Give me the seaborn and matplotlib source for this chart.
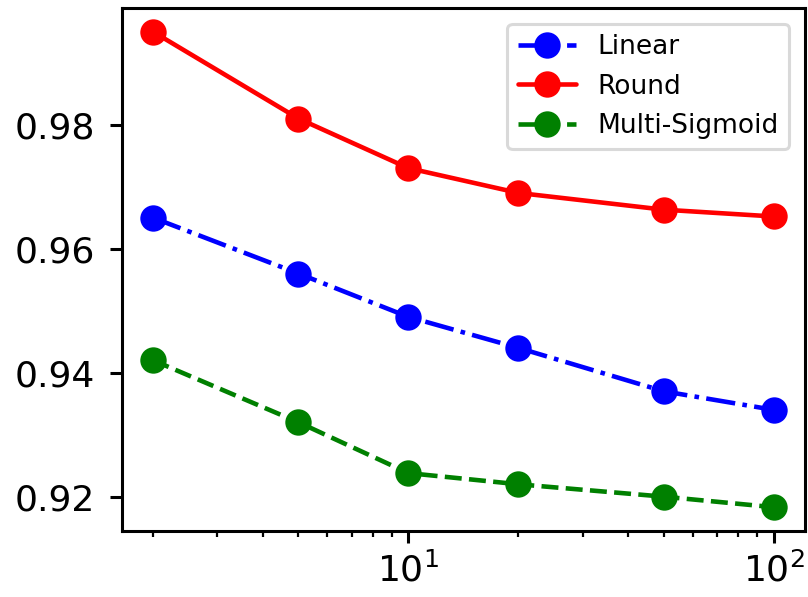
import numpy as np
import pandas as pd
import matplotlib
matplotlib.use("Agg")
import matplotlib.pyplot as plt
import seaborn as sns

# data
x_vals = [2, 5, 10, 20, 50, 100]
linear = [0.965, 0.956, 0.949, 0.944, 0.937, 0.934]
round_ = [0.995, 0.981, 0.973, 0.969, 0.9663, 0.9652]
multi_sigmoid = [0.942, 0.932, 0.9238, 0.922, 0.920, 0.9183]

sns.set_style("ticks", {"axes.edgecolor": "black", "xtick.color": "black",
                        "ytick.color": "black", "text.color": "black"})
plt.rcParams['font.family'] = ['DejaVu Sans']

fig = plt.figure(figsize=(8.08, 5.97), dpi=100)
ax = fig.add_axes([0.151, 0.1106, 0.845, 0.876])

series = [
    ("Linear", linear, "blue", "-."),
    ("Round", round_, "red", "-"),
    ("Multi-Sigmoid", multi_sigmoid, "green", "--"),
]
for name, vals, col, ls in series:
    df = pd.DataFrame({"x": x_vals, "y": vals})
    sns.lineplot(data=df, x="x", y="y", ax=ax, color=col, linestyle=ls,
                 linewidth=3.3, marker="o", markersize=19, markeredgewidth=0,
                 label=name)

ax.set_xscale("log")
ax.set_yticks([0.92, 0.94, 0.96, 0.98])
ax.set_xlabel("")
ax.set_ylabel("")
ax.tick_params(axis="both", which="major", labelsize=26, width=2.2, length=8.5,
               colors="black")
ax.tick_params(axis="y", which="major", pad=11)
ax.tick_params(axis="x", which="major", pad=7)
ax.tick_params(axis="x", which="minor", width=1.6, length=4.5, colors="black")
for s in ax.spines.values():
    s.set_linewidth(2.2)
    s.set_visible(True)
    s.set_color("black")

leg = ax.legend(loc="upper right", fontsize=19, frameon=True,
                handlelength=2.2, borderaxespad=0.6)
leg.get_frame().set_linewidth(2.2)
leg.get_frame().set_edgecolor("#d0d0d0")
for t in leg.get_texts():
    t.set_color("black")

fig.savefig("out.png", dpi=100)
